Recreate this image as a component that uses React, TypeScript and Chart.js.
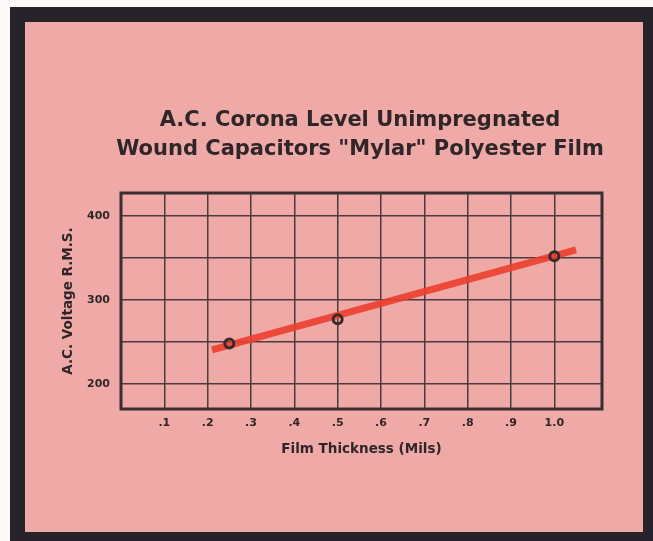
import React, { useEffect, useRef } from "react";
import { Chart, registerables } from "chart.js";

Chart.register(...registerables);

// ---- Data ----
const thicknessMils = [0.25, 0.5, 1.0];
const coronaVolts = [248, 277, 352];
const trendThickness = [0.21, 1.05];
const trendVolts = [240.5, 359.5];

const xTickValues = [0.1, 0.2, 0.3, 0.4, 0.5, 0.6, 0.7, 0.8, 0.9, 1.0];
const xTickLabels = [".1", ".2", ".3", ".4", ".5", ".6", ".7", ".8", ".9", "1.0"];
const yTickValues = [200, 250, 300, 350, 400];
const yTickLabels = ["200", "", "300", "", "400"];

const titleLines = ["A.C. Corona Level Unimpregnated", 'Wound Capacitors "Mylar" Polyester Film'];
const xTitle = "Film Thickness (Mils)";
const yTitle = "A.C. Voltage R.M.S.";

// ---- Styles ----
const FONT = "'DejaVu Sans', 'Liberation Sans', sans-serif";
const INK = "#2e2628";
const GRID = "#4a3c3e";
const PINK = "#efa9a6";
const FRAME = "#26242a";

const plotBorder = {
  id: "plotBorder",
  beforeDatasetsDraw(chart: any) {
    const { ctx, chartArea } = chart;
    ctx.save();
    ctx.strokeStyle = "#3a2e30";
    ctx.lineWidth = 3;
    ctx.strokeRect(chartArea.left, chartArea.top, chartArea.right - chartArea.left, chartArea.bottom - chartArea.top);
    ctx.restore();
  },
};

export default function App() {
  const ref = useRef<HTMLCanvasElement | null>(null);

  useEffect(() => {
    if (!ref.current) return;
    const chart = new Chart(ref.current, {
      type: "scatter",
      data: {
        datasets: [
          {
            label: "Measured",
            data: thicknessMils.map((x, i) => ({ x, y: coronaVolts[i] })),
            showLine: false,
            pointRadius: 4.5,
            pointBorderWidth: 3,
            pointBorderColor: "#3a2b2b",
            pointBackgroundColor: "rgba(0,0,0,0)",
            order: 0,
          },
          {
            label: "Trend",
            data: trendThickness.map((x, i) => ({ x, y: trendVolts[i] })),
            showLine: true,
            borderColor: "rgba(236,62,45,0.9)",
            borderWidth: 7,
            pointRadius: 0,
            order: 1,
          },
        ],
      },
      options: {
        animation: false,
        responsive: false,
        devicePixelRatio: 1,
        layout: { padding: { left: 0, right: 0, top: 0, bottom: 74.9 } },
        plugins: {
          legend: { display: false },
          tooltip: { enabled: false },
          title: {
            display: true,
            text: titleLines,
            color: INK,
            font: { family: FONT, size: 21, weight: "bold", lineHeight: 28.5 / 21 },
            padding: { top: 84.45, bottom: 29.55 },
          },
        },
        scales: {
          x: {
            type: "linear",
            min: 0,
            max: 1.11,
            afterBuildTicks: (s: any) => {
              s.ticks = xTickValues.map((v) => ({ value: v }));
            },
            afterFit: (s: any) => {
              s.height = 48.1;
            },
            ticks: {
              callback: (_v: any, i: number) => xTickLabels[i],
              color: INK,
              font: { family: FONT, size: 11, weight: "bold" },
              padding: 7.4,
              autoSkip: false,
              maxRotation: 0,
            },
            grid: { color: GRID, lineWidth: 1.5, drawTicks: false },
            border: { display: false },
            title: {
              display: true,
              text: xTitle,
              color: INK,
              font: { family: FONT, size: 13.5, weight: "bold" },
              padding: { top: 0, bottom: 0 },
            },
          },
          y: {
            type: "linear",
            position: "left",
            min: 170,
            max: 427.4,
            afterBuildTicks: (s: any) => {
              s.ticks = yTickValues.map((v) => ({ value: v }));
            },
            afterFit: (s: any) => {
              s.width = 96;
            },
            ticks: {
              callback: (_v: any, i: number) => yTickLabels[i],
              color: INK,
              font: { family: FONT, size: 11, weight: "bold" },
              padding: 11,
              autoSkip: false,
            },
            grid: { color: GRID, lineWidth: 1.5, drawTicks: false },
            border: { display: false },
            title: {
              display: true,
              text: yTitle,
              color: INK,
              font: { family: FONT, size: 13.5, weight: "bold" },
              padding: { top: 34.9, bottom: 0 },
            },
          },
          pad: {
            type: "linear",
            position: "right",
            display: true,
            afterFit: (s: any) => {
              s.width = 93;
            },
            ticks: { display: false },
            grid: { display: false },
            border: { display: false },
          },
        },
      },
      plugins: [plotBorder],
    } as any);
    return () => chart.destroy();
  }, []);

  return (
    <div style={{ position: "fixed", left: 0, top: 0, width: 653, height: 541, background: "#fbfaf8", overflow: "hidden" }}>
      <div style={{ position: "absolute", left: 10, top: 7, width: 660, height: 560, background: FRAME }} />
      <div style={{ position: "absolute", left: 25, top: 22, width: 618, height: 510, background: PINK, overflow: "hidden" }}>
        <canvas ref={ref} width={670} height={510} style={{ display: "block" }} />
      </div>
    </div>
  );
}
